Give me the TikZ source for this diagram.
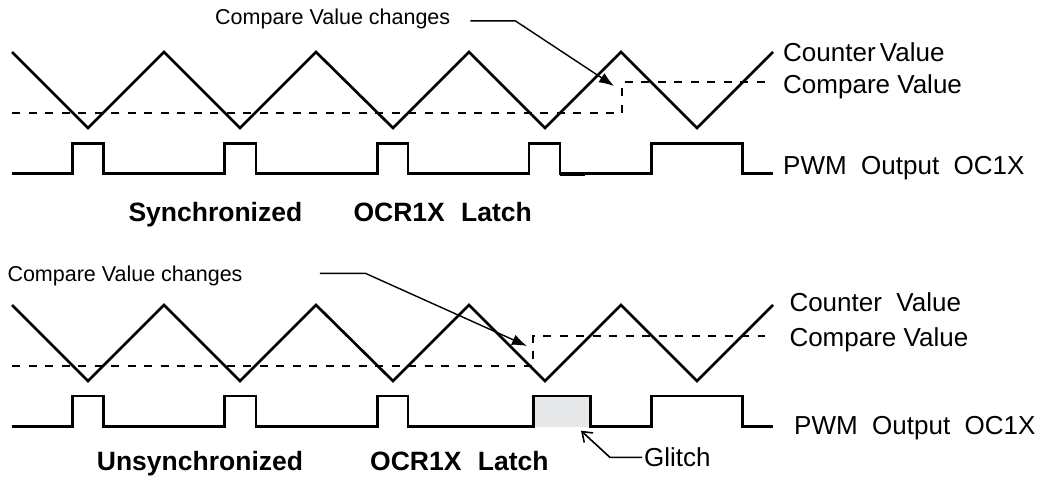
\documentclass[tikz,border=0pt]{standalone}
\usepackage{fontspec}
\setmainfont{Liberation Sans}
\usetikzlibrary{arrows.meta}
\definecolor{glitchgray}{HTML}{E6E7E8}
\begin{document}
\begin{tikzpicture}[x=1pt,y=-1pt,
  wave/.style={line width=2.7pt, line join=miter},
  pwm/.style={line width=2.7pt, line join=miter},
  cmp/.style={line width=1.7pt, dash pattern=on 8pt off 8.5pt},
  callout/.style={line width=1.4pt, -{Latex[length=15pt,width=11pt]}},
  gcallout/.style={line width=1.6pt, -{Straight Barb[length=9pt,width=13pt]}},
  lbl/.style={anchor=base west, inner sep=0pt, font=\fontsize{26}{30}\selectfont},
  note/.style={anchor=base west, inner sep=0pt, font=\fontsize{21.5}{25}\selectfont},
  ttl/.style={anchor=base west, inner sep=0pt, font=\fontsize{26.5}{30}\selectfont\bfseries},
]
\path[use as bounding box, fill=white] (0,0) rectangle (1040,477);

% ---------- top panel ----------
\node[note] (ch1) at (215,24.5) {Compare Value changes};
\coordinate (tip1) at (614,86);
\draw[callout] ([xshift=20pt,yshift=-2pt]ch1.east) -- ++(45,0) -- (tip1);

\draw[wave] (12,52) -- (88,128) -- (164,52) -- (240,128) -- (316,52) -- (393,128)
  -- (469,52) -- (545,128) -- (621,52) -- (697,128) -- (773,52);
\draw[cmp] (12,112.7) -- (622.3,112.7) -- (622.3,81.7) -- (765,81.7);
\draw[pwm] (12,173.3) -- (72.3,173.3) -- (72.3,143.3) -- (103.3,143.3) -- (103.3,173.3)
  -- (224.3,173.3) -- (224.3,143.3) -- (256,143.3) -- (256,173.3)
  -- (377.3,173.3) -- (377.3,143.3) -- (408,143.3) -- (408,173.3)
  -- (529,173.3) -- (529,143.3) -- (560,143.3) -- (560,173.3)
  -- (651.7,173.3) -- (651.7,143.3) -- (742.7,143.3) -- (742.7,173.3) -- (773.3,173.3);
\draw[line width=2.7pt] (560,175) -- (585,175);

\node[lbl] (cv1) at (783,61) {Counter\hspace{-3pt} Value};
\node[lbl] (cmp1) at (783,93.3) {Compare Value};
\node[lbl] (pwm1) at (783,174) {PWM\ \ Output\ \ OC1X};
\node[ttl] (sync1) at (128.3,221) {Synchronized};
\node[ttl] (latch1) at (353.3,221) {OCR1X\hspace{9pt} Latch};

% ---------- bottom panel ----------
\node[note] (ch2) at (7.3,281.7) {Compare Value changes};
\coordinate (tip2) at (527,346);
\draw[callout] ([xshift=77pt,yshift=2.8pt]ch2.east) -- ++(45.7,0) -- (tip2);

\draw[wave] (12,305) -- (88,381) -- (164,305) -- (240,381) -- (316,305) -- (393,381)
  -- (469,305) -- (545,381) -- (621,305) -- (697,381) -- (773,305);
\draw[cmp] (12,365.7) -- (533.3,365.7) -- (533.3,335.7) -- (765,335.7);
\fill[glitchgray] (533.3,396) rectangle (590.7,426.5);
\draw[pwm] (12,426.5) -- (72.3,426.5) -- (72.3,396) -- (103.3,396) -- (103.3,426.5)
  -- (224.3,426.5) -- (224.3,396) -- (256,396) -- (256,426.5)
  -- (377.3,426.5) -- (377.3,396) -- (408,396) -- (408,426.5)
  -- (533.3,426.5) -- (533.3,396) -- (590.7,396) -- (590.7,426.5)
  -- (651.7,426.5) -- (651.7,396) -- (742.7,396) -- (742.7,426.5) -- (773.3,426.5);

\node[lbl] (cv2) at (789.3,311) {Counter\ \ Value};
\node[lbl] (cmp2) at (789.3,346.7) {Compare Value};
\node[lbl] (pwm2) at (794,434.3) {PWM\ \ Output\ \ OC1X};
\node[ttl] (sync2) at (96.7,470) {Unsynchronized};
\node[ttl] (latch2) at (370,470) {OCR1X\hspace{9pt} Latch};

\node[lbl] (gl) at (644,466.7) {Glitch};
\coordinate (gtip) at (581,430.7);
\draw[gcallout] ([xshift=-2pt]gl.west) -- ++(-32,0) -- (gtip);
\end{tikzpicture}
\end{document}
